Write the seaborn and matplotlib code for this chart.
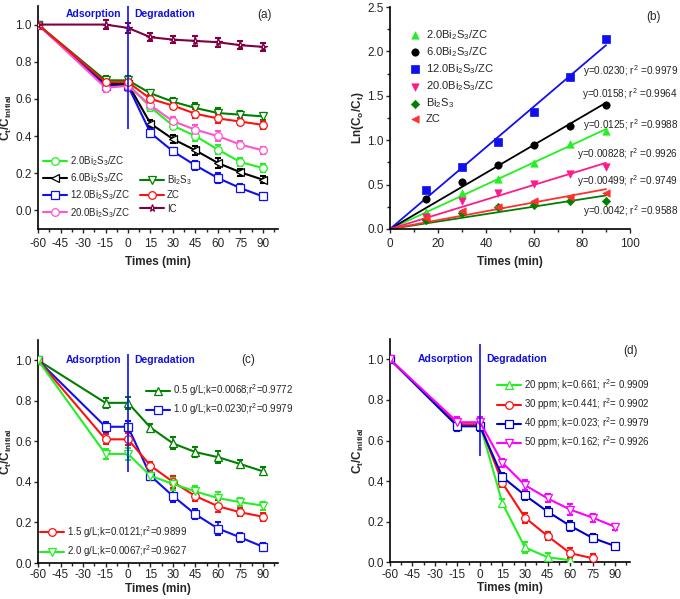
import matplotlib
matplotlib.use("Agg")
import matplotlib.pyplot as plt
import seaborn as sns
from matplotlib.ticker import MultipleLocator

sns.set_style("ticks")
plt.rcParams["font.family"] = ["Liberation Sans", "DejaVu Sans"]
plt.rcParams["mathtext.fontset"] = "custom"
plt.rcParams["mathtext.rm"] = "Liberation Sans"
plt.rcParams["mathtext.it"] = "Liberation Sans:italic"
plt.rcParams["mathtext.bf"] = "Liberation Sans:bold"
plt.rcParams["mathtext.default"] = "regular"
plt.rcParams["axes.unicode_minus"] = False

# ---- data ----
times = [-60, -15, 0, 15, 30, 45, 60, 75, 90]
fit_times = [15, 30, 45, 60, 75, 90]
fit_range = [0, 90]

# (a) catalysts
a_names = ["2.0Bi$_2$S$_3$/ZC", "6.0Bi$_2$S$_3$/ZC", "12.0Bi$_2$S$_3$/ZC",
           "20.0Bi$_2$S$_3$/ZC", "Bi$_2$S$_3$", "ZC", "IC"]
a_bs2 = [1.0, 0.68, 0.68, 0.555, 0.456, 0.40, 0.327, 0.26, 0.228]
a_bs6 = [1.0, 0.68, 0.68, 0.467, 0.384, 0.323, 0.255, 0.205, 0.165]
a_bs12 = [1.0, 0.67, 0.67, 0.417, 0.318, 0.242, 0.174, 0.12, 0.075]
a_bs20 = [1.0, 0.66, 0.67, 0.565, 0.48, 0.434, 0.40, 0.354, 0.323]
a_bis = [1.0, 0.70, 0.70, 0.63, 0.585, 0.551, 0.524, 0.515, 0.506]
a_zc = [1.0, 0.69, 0.69, 0.60, 0.564, 0.52, 0.495, 0.478, 0.46]
a_ic = [1.0, 1.0, 0.982, 0.932, 0.919, 0.912, 0.905, 0.889, 0.880]
a_err = [0, 0.025, 0.025, 0.02, 0.02, 0.025, 0.025, 0.02, 0.02]

# (b) kinetics ln(C0/Ct)
b_names = ["2.0Bi$_2$S$_3$/ZC", "6.0Bi$_2$S$_3$/ZC", "12.0Bi$_2$S$_3$/ZC",
           "20.0Bi$_2$S$_3$/ZC", "Bi$_2$S$_3$", "ZC"]
b_bs2 = [0.195, 0.41, 0.56, 0.748, 0.955, 1.10]
b_bs6 = [0.335, 0.534, 0.718, 0.944, 1.165, 1.40]
b_bs12 = [0.436, 0.70, 0.985, 1.316, 1.707, 2.14]
b_bs20 = [0.13, 0.31, 0.41, 0.51, 0.617, 0.70]
b_bis = [0.10, 0.175, 0.245, 0.275, 0.31, 0.31]
b_zc = [0.125, 0.20, 0.25, 0.32, 0.36, 0.40]
b_k = [0.0125, 0.0158, 0.0230, 0.00828, 0.0042, 0.00499]
b_fit_labels = ["y=0.0230; r$^2$ =0.9979", "y=0.0158; r$^2$ =0.9964",
                "y=0.0125; r$^2$ =0.9988", "y=0.00828; r$^2$ =0.9926",
                "y=0.00499; r$^2$ =0.9749", "y=0.0042; r$^2$ =0.9588"]

# (c) catalyst dosage
c_names = ["0.5 g/L;k=0.0068;r$^2$=0.9772", "1.0 g/L;k=0.0230;r$^2$=0.9979",
           "1.5 g/L;k=0.0121;r$^2$=0.9899", "2.0 g/L;k=0.0067;r$^2$=0.9627"]
c_05 = [1.0, 0.79, 0.79, 0.668, 0.59, 0.547, 0.522, 0.488, 0.452]
c_10 = [1.0, 0.672, 0.672, 0.43, 0.33, 0.24, 0.17, 0.126, 0.08]
c_15 = [1.0, 0.61, 0.61, 0.48, 0.40, 0.33, 0.28, 0.25, 0.228]
c_20 = [1.0, 0.538, 0.538, 0.43, 0.39, 0.353, 0.32, 0.30, 0.283]
c_err = [0, 0.025, 0.03, 0.02, 0.03, 0.025, 0.03, 0.02, 0.02]

# (d) initial concentration
d_names = ["20 ppm; k=0.661; r$^2$= 0.9909", "30 ppm; k=0.441; r$^2$= 0.9902",
           "40 ppm; k=0.023; r$^2$= 0.9979", "50 ppm; k=0.162; r$^2$= 0.9926"]
d_20 = [1.0, 0.67, 0.68, 0.29, 0.073, 0.025, 0.01]
d_30 = [1.0, 0.68, 0.68, 0.39, 0.22, 0.13, 0.045, 0.02]
d_40 = [1.0, 0.67, 0.67, 0.42, 0.33, 0.25, 0.18, 0.12, 0.08]
d_50 = [1.0, 0.69, 0.69, 0.49, 0.38, 0.315, 0.26, 0.22, 0.175]
d_err = [0, 0.025, 0.025, 0.02, 0.025, 0.02, 0.025, 0.02, 0.015]

LGREEN = "#22f022"
DGREEN = "#008000"
BLUE = "#1010ee"
RED = "#ff1010"
PINK = "#ff55cc"
MAROON = "#800040"

YLABEL = r"C$_\mathbf{t}$/C$_\mathbf{initial}$"


def draw_series(ax, y, err, color, marker):
    x = times[:len(y)]
    ax.errorbar(x, y, yerr=err[:len(y)], fmt="none", ecolor=color,
                elinewidth=1.2, capsize=2, capthick=1.5, zorder=2)
    sns.lineplot(x=x, y=y, ax=ax, color=color, marker=marker, markersize=5.5,
                 markerfacecolor="white", markeredgecolor=color,
                 markeredgewidth=0.9, linewidth=1.5, zorder=3)
    return ax.lines[-1]


def style_time_axis(ax, ylow, xpad, xlabelpad):
    ax.set_xlim(-60, 100)
    ax.set_ylim(ylow, 1.1)
    ax.xaxis.set_major_locator(MultipleLocator(15))
    ax.xaxis.set_minor_locator(MultipleLocator(7.5))
    ax.yaxis.set_major_locator(MultipleLocator(0.2))
    ax.tick_params(axis="x", pad=xpad)
    ax.set_xlabel("Times (min)", fontsize=8.5, fontweight="bold", labelpad=xlabelpad)
    ax.set_ylabel(YLABEL, fontsize=8.5, fontweight="bold", labelpad=1)


def stage_text(ax, ytxt):
    ax.text(-23, ytxt, "Adsorption", color="#1010dd", fontsize=7.5,
            fontweight="bold", ha="center", va="center")
    ax.text(4, ytxt, "Degradation", color="#1010dd", fontsize=7.5,
            fontweight="bold", ha="left", va="center")


fig = plt.figure(figsize=(6.8, 5.99), dpi=100)
ax_a = fig.add_axes([0.0559, 0.6177, 0.3529, 0.3723])
ax_b = fig.add_axes([0.5735, 0.6177, 0.3530, 0.3706])
ax_c = fig.add_axes([0.0559, 0.0601, 0.3529, 0.3723])
ax_d = fig.add_axes([0.5735, 0.0613, 0.3530, 0.3727])

for ax in (ax_a, ax_b, ax_c, ax_d):
    sns.despine(ax=ax)
    ax.tick_params(axis="both", which="major", labelsize=8.5, length=3, width=1)
    ax.tick_params(axis="both", which="minor", length=2, width=1)
    ax.tick_params(axis="y", pad=1.5)
    for s in ("left", "bottom"):
        ax.spines[s].set_linewidth(1.2)
        ax.spines[s].set_color("black")

leg_kw = dict(fontsize=7, frameon=False, handlelength=2.5, handletextpad=0.3,
              borderpad=0, borderaxespad=0, labelspacing=0.35)

# ---- (a) ----
a_series = [(a_bs2, LGREEN, "o"), (a_bs6, "black", "<"), (a_bs12, BLUE, "s"),
            (a_bs20, PINK, "o"), (a_bis, DGREEN, "v"), (a_zc, RED, "o"),
            (a_ic, MAROON, "*")]
a_handles = [draw_series(ax_a, y, a_err, c, m) for y, c, m in a_series]
ax_a.vlines(0, 0.44, 1.1, color=BLUE, linewidth=1.2, zorder=4)
style_time_axis(ax_a, -0.1, 3.5, 4)
stage_text(ax_a, 1.055)
ax_a.text(91, 1.05, "(a)", fontsize=8.5, ha="center", va="center")
leg1 = ax_a.legend(a_handles[:4], a_names[:4], loc="upper left",
                   bbox_to_anchor=(0.02, 0.335), **leg_kw)
ax_a.add_artist(leg1)
ax_a.legend(a_handles[4:], a_names[4:], loc="upper left",
            bbox_to_anchor=(0.425, 0.25), **leg_kw)

# ---- (b) ----
b_series = [(b_bs2, b_k[0], LGREEN, "^"), (b_bs6, b_k[1], "black", "o"),
            (b_bs12, b_k[2], BLUE, "s"), (b_bs20, b_k[3], "#ff1a8c", "v"),
            (b_bis, b_k[4], DGREEN, "D"), (b_zc, b_k[5], "#ff3030", "<")]
b_handles = []
for y, k, c, m in b_series:
    sns.lineplot(x=fit_range, y=[k * t for t in fit_range], ax=ax_b, color=c,
                 linewidth=1.3, zorder=2)
    sns.scatterplot(x=fit_times, y=y, ax=ax_b, color=c, marker=m,
                    s=28 if m != "D" else 18, edgecolor=c, linewidth=0.5, zorder=3)
    b_handles.append(ax_b.collections[-1])
ax_b.set_xlim(0, 100)
ax_b.set_ylim(0, 2.5)
ax_b.xaxis.set_major_locator(MultipleLocator(20))
ax_b.xaxis.set_minor_locator(MultipleLocator(10))
ax_b.yaxis.set_major_locator(MultipleLocator(0.5))
ax_b.yaxis.set_minor_locator(MultipleLocator(0.25))
ax_b.set_xlabel("Times (min)", fontsize=8.5, fontweight="bold", labelpad=4)
ax_b.set_ylabel(r"Ln(C$_\mathbf{o}$/C$_\mathbf{t}$)", fontsize=8.5,
                fontweight="bold", labelpad=1)
ax_b.text(109.6, 2.39, "(b)", fontsize=8.5, ha="center", va="center")
b_text_y = [1.774, 1.519, 1.165, 0.846, 0.534, 0.207]
for lbl, ty in zip(b_fit_labels, b_text_y):
    ax_b.text(120, ty, lbl, fontsize=7.2, ha="right", va="center", clip_on=False)
ax_b.legend(b_handles, b_names, loc="upper left", bbox_to_anchor=(0.08, 0.905),
            fontsize=8, frameon=False, handlelength=1.0, handletextpad=0.5,
            borderpad=0, borderaxespad=0, labelspacing=0.3, scatterpoints=1)

# ---- (c) ----
c_series = [(c_05, DGREEN, "^"), (c_10, BLUE, "s"), (c_15, RED, "o"), (c_20, LGREEN, "v")]
c_handles = [draw_series(ax_c, y, c_err, c, m) for y, c, m in c_series]
ax_c.vlines(0, 0.45, 1.03, color=BLUE, linewidth=1.2, zorder=4)
style_time_axis(ax_c, 0, 1.5, 1)
stage_text(ax_c, 1.0)
ax_c.text(80, 1.0, "(c)", fontsize=8.5, ha="center", va="center")
leg2 = ax_c.legend(c_handles[:2], c_names[:2], loc="upper left",
                   bbox_to_anchor=(0.45, 0.81), **leg_kw)
ax_c.add_artist(leg2)
ax_c.legend(c_handles[2:], c_names[2:], loc="upper left",
            bbox_to_anchor=(0.008, 0.175), **leg_kw)

# ---- (d) ----
d_series = [(d_20, LGREEN, "^"), (d_30, RED, "o"), (d_40, "#0000cc", "s"), (d_50, "#ff00ff", "v")]
d_handles = [draw_series(ax_d, y, d_err, c, m) for y, c, m in d_series]
ax_d.vlines(0, 0.526, 1.076, color=BLUE, linewidth=1.2, zorder=4)
style_time_axis(ax_d, 0, 1.5, 1)
stage_text(ax_d, 1.0)
ax_d.text(100, 1.04, "(d)", fontsize=8.5, ha="center", va="center")
ax_d.legend(d_handles, d_names, loc="upper left", bbox_to_anchor=(0.446, 0.83), **leg_kw)

fig.savefig("out.png", dpi=100)
